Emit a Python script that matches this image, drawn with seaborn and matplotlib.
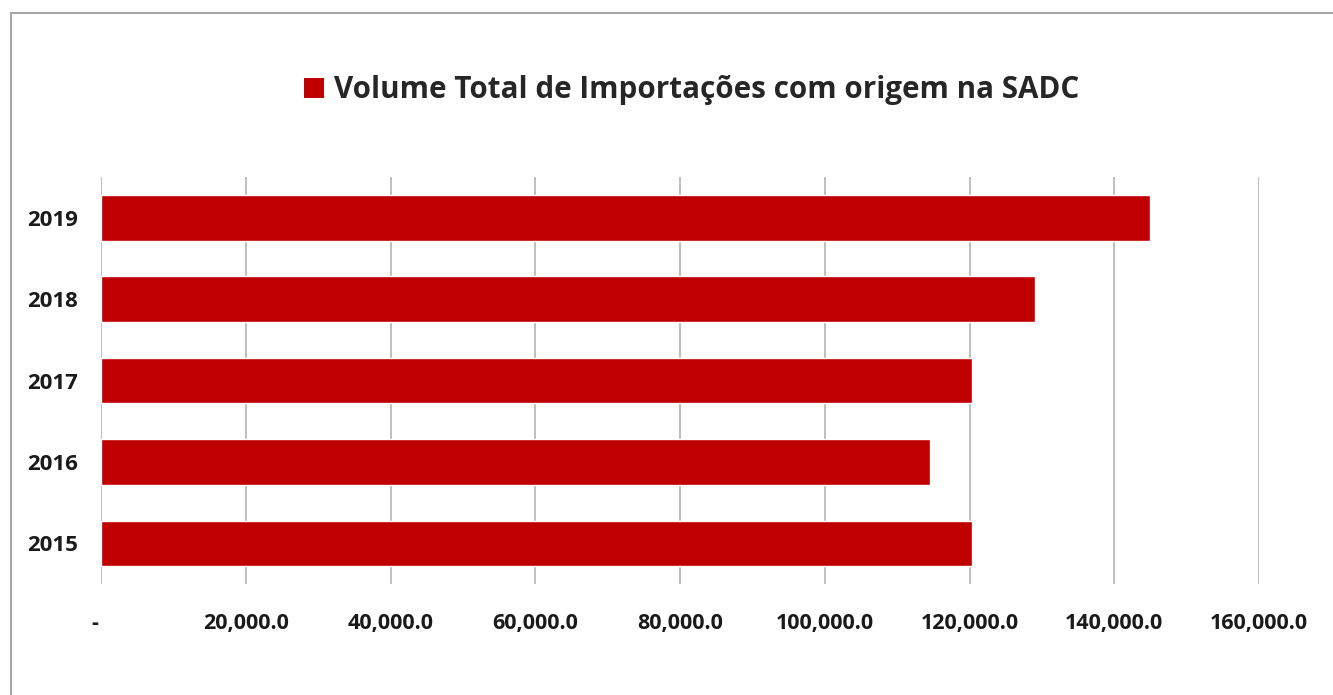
import matplotlib
matplotlib.use("Agg")
import matplotlib.pyplot as plt
from matplotlib.lines import Line2D
from matplotlib.patches import Patch
from matplotlib.ticker import FuncFormatter
import pandas as pd
import seaborn as sns

# dados
anos = ["2019", "2018", "2017", "2016", "2015"]
volume = [144900, 129000, 120300, 114500, 120300]
titulo_serie = "Volume Total de Importações com origem na SADC"
x_ticks = [0, 20000, 40000, 60000, 80000, 100000, 120000, 140000, 160000]

cor_barra = "#C00000"
cor_grelha = "#BFBFBF"

sns.set_theme(style="white")
plt.rcParams["font.family"] = ["Open Sans", "DejaVu Sans"]

df = pd.DataFrame({"ano": anos, "volume": volume})

fig = plt.figure(figsize=(13.33, 6.95), dpi=100)
ax = fig.add_axes([0.0758, 0.1597, 0.8687, 0.5856])

sns.barplot(data=df, x="volume", y="ano", order=anos, orient="h",
            color=cor_barra, width=0.56, saturation=1, ax=ax)

ax.set_xlim(0, 160000)
ax.set_ylim(4.5, -0.5)
ax.set_xticks(x_ticks)
ax.xaxis.set_major_formatter(FuncFormatter(lambda v, p: "-  " if v == 0 else f"{v:,.1f}"))
ax.grid(axis="x", color=cor_grelha, linewidth=1.4)
ax.set_axisbelow(True)
for s in ax.spines.values():
    s.set_visible(False)
ax.tick_params(axis="x", length=0, pad=21, labelsize=15.5, colors="#1a1a1a")
ax.tick_params(axis="y", length=0, pad=16.5, labelsize=16, colors="#1a1a1a")
for lab in ax.get_xticklabels() + ax.get_yticklabels():
    lab.set_fontweight("bold")
ax.set_xlabel("")
ax.set_ylabel("")

# legenda no topo
fig.legend(handles=[Patch(facecolor=cor_barra, edgecolor="none")], labels=[titulo_serie],
           loc="center", bbox_to_anchor=(0.519, 0.87), frameon=False,
           handlelength=0.68, handleheight=0.68, handletextpad=0.35,
           prop={"size": 21.3, "weight": "bold"})

# moldura (só topo e esquerda visíveis)
y_top = 1 - 13 / 695
x_left = 11 / 1333
fig.add_artist(Line2D([x_left, 1], [y_top, y_top], transform=fig.transFigure, color="#A6A6A6", linewidth=1.5))
fig.add_artist(Line2D([x_left, x_left], [0, y_top], transform=fig.transFigure, color="#A6A6A6", linewidth=1.5))

fig.savefig("out.png", dpi=100)
